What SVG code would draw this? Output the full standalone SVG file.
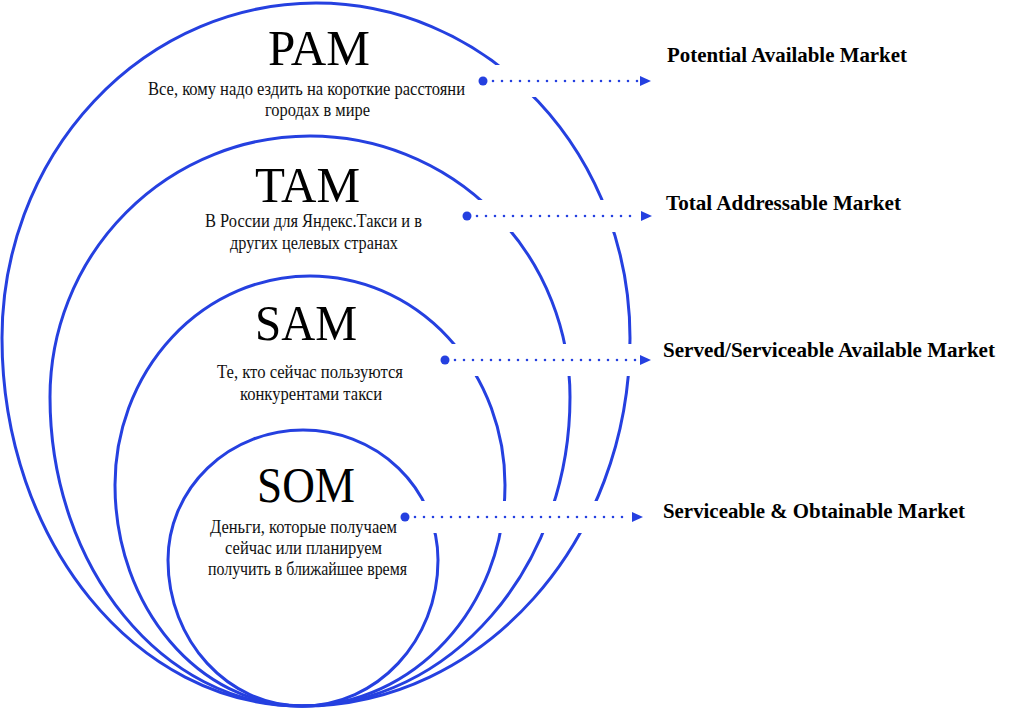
<svg xmlns="http://www.w3.org/2000/svg" width="1019" height="709" viewBox="0 0 1019 709">
<style>
.ring{fill:none;stroke:#2540e0;stroke-width:3}
.title{font-family:"Liberation Serif","Times New Roman",serif;font-size:50px;fill:#000}
.desc{font-family:"Liberation Serif","Times New Roman",serif;font-size:19px;fill:#111}
.lbl{font-family:"Liberation Serif","Times New Roman",serif;font-size:22px;font-weight:bold;fill:#000}
.halo{fill:#fff}
.dots{stroke:#2540e0;stroke-width:2.6;stroke-linecap:round;stroke-dasharray:0 9;fill:none}
.dot{fill:#2540e0}
.head{fill:#2540e0}
</style>
<rect width="1019" height="709" fill="#fff"/>
<g id="pam">
<path class="ring" d="M2,338 A314,335 0 0 1 630,338 C630,541 483,706 302,706 C136,706 2,541 2,338 Z"/>
</g>
<g id="tam">
<path class="ring" d="M50,397 A260,261 0 0 1 570,397 C570,568 450,706 302,706 C163,706 50,568 50,397 Z"/>
</g>
<g id="sam">
<path class="ring" d="M115,485 A195,209 0 0 1 505,485 C505,607 414,706 302,706 C199,706 115,607 115,485 Z"/>
</g>
<g id="som">
<path class="ring" d="M168,560 A135,130 0 0 1 438,560 C438,641 377,706 302,706 C228,706 168,641 168,560 Z"/>
</g>
<g id="connectors">
<rect class="halo" x="489" y="65" width="166" height="32"/>
<rect class="halo" x="473" y="200" width="183" height="32"/>
<rect class="halo" x="451" y="344" width="204" height="32"/>
<rect class="halo" x="411" y="501" width="236" height="32"/>
<circle class="dot" cx="483" cy="81" r="4.5"/>
<line class="dots" x1="493" y1="81" x2="638" y2="81"/>
<polygon class="head" points="651,81 640,76 640,86"/>
<circle class="dot" cx="467" cy="216" r="4.5"/>
<line class="dots" x1="477" y1="216" x2="639" y2="216"/>
<polygon class="head" points="652,216 641,211 641,221"/>
<circle class="dot" cx="445" cy="360" r="4.5"/>
<line class="dots" x1="455" y1="360" x2="637" y2="360"/>
<polygon class="head" points="651,360 640,355 640,365"/>
<circle class="dot" cx="405" cy="517" r="4.5"/>
<line class="dots" x1="415" y1="517" x2="630" y2="517"/>
<polygon class="head" points="643,517 632,512 632,522"/>
</g>
<g id="pam-text">
<text class="title" x="268" y="65" textLength="102" lengthAdjust="spacingAndGlyphs">PAM</text>
<text class="desc" x="148" y="95" textLength="317" lengthAdjust="spacingAndGlyphs">Все, кому надо ездить на короткие расстояни</text>
<text class="desc" x="265" y="116" textLength="105" lengthAdjust="spacingAndGlyphs">городах в мире</text>
</g>
<g id="tam-text">
<text class="title" x="255" y="202" textLength="105" lengthAdjust="spacingAndGlyphs">TAM</text>
<text class="desc" x="205" y="227" textLength="217" lengthAdjust="spacingAndGlyphs">В России для Яндекс.Такси и в</text>
<text class="desc" x="230" y="249" textLength="168" lengthAdjust="spacingAndGlyphs">других целевых странах</text>
</g>
<g id="sam-text">
<text class="title" x="255" y="340" textLength="102" lengthAdjust="spacingAndGlyphs">SAM</text>
<text class="desc" x="217" y="378" textLength="186" lengthAdjust="spacingAndGlyphs">Те, кто сейчас пользуются</text>
<text class="desc" x="240" y="400" textLength="142" lengthAdjust="spacingAndGlyphs">конкурентами такси</text>
</g>
<g id="som-text">
<text class="title" x="257" y="502" textLength="98" lengthAdjust="spacingAndGlyphs">SOM</text>
<text class="desc" x="210" y="533" textLength="187" lengthAdjust="spacingAndGlyphs">Деньги, которые получаем</text>
<text class="desc" x="225" y="554" textLength="157" lengthAdjust="spacingAndGlyphs">сейчас или планируем</text>
<text class="desc" x="208" y="575" textLength="199" lengthAdjust="spacingAndGlyphs">получить в ближайшее время</text>
</g>
<g id="label-pam"><text class="lbl" x="667" y="62" textLength="240" lengthAdjust="spacingAndGlyphs">Potential Available Market</text></g>
<g id="label-tam"><text class="lbl" x="666" y="210" textLength="235" lengthAdjust="spacingAndGlyphs">Total Addressable Market</text></g>
<g id="label-sam"><text class="lbl" x="663" y="357" textLength="332" lengthAdjust="spacingAndGlyphs">Served/Serviceable Available Market</text></g>
<g id="label-som"><text class="lbl" x="663" y="518" textLength="302" lengthAdjust="spacingAndGlyphs">Serviceable &amp; Obtainable Market</text></g>
</svg>
